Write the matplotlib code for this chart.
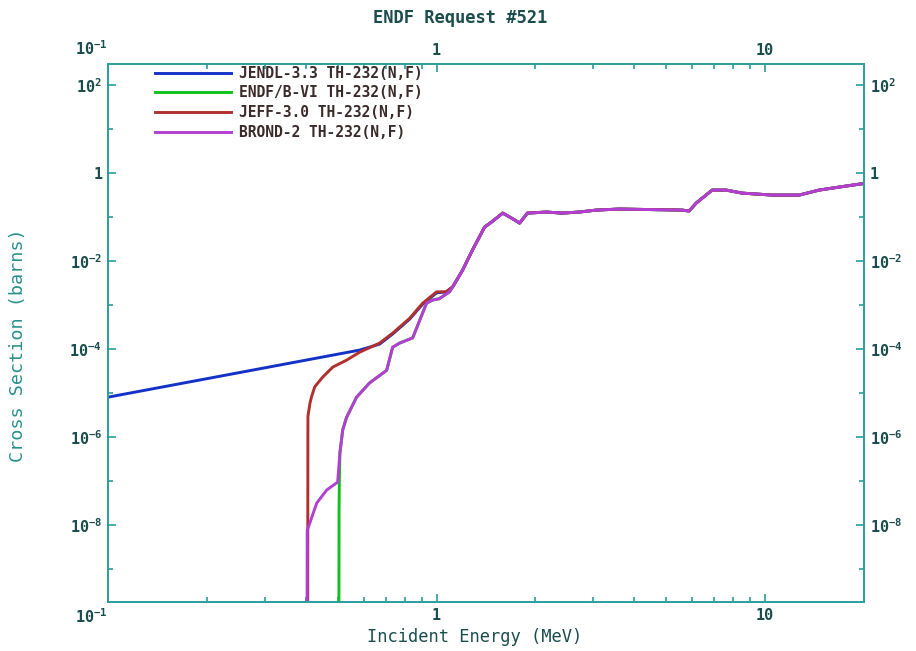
import numpy as np
import matplotlib
matplotlib.use("Agg")
import matplotlib.pyplot as plt
from matplotlib.ticker import FixedLocator, FixedFormatter, NullFormatter

plt.rcParams['font.family'] = ['DejaVu Sans Mono']
plt.rcParams['font.weight'] = 'bold'
plt.rcParams['mathtext.fontset'] = 'custom'
plt.rcParams['mathtext.rm'] = 'DejaVu Sans Mono:bold'
plt.rcParams['mathtext.it'] = 'DejaVu Sans Mono:bold'
plt.rcParams['mathtext.bf'] = 'DejaVu Sans Mono:bold'

# common part of all evaluations above ~1.2 MeV
e_tail = [1.20, 1.286, 1.40, 1.47, 1.59, 1.69, 1.79, 1.89, 2.16, 2.41, 2.72, 3.06,
          3.60, 5.59, 5.87, 6.17, 6.90, 7.61, 8.51, 10.5, 12.7, 14.6, 16.8, 20.0]
xs_tail = [6.2e-3, 0.0178, 0.059, 0.077, 0.123, 0.095, 0.073, 0.123, 0.130, 0.123, 0.130, 0.144,
           0.152, 0.144, 0.137, 0.208, 0.41, 0.41, 0.35, 0.316, 0.316, 0.41, 0.48, 0.58]

# JENDL-3.3
e_jendl = [0.1, 0.583, 0.671, 0.735, 0.828, 0.907, 1.0, 1.07, 1.12]
xs_jendl = [8.1e-6, 9.5e-5, 1.3e-4, 2.2e-4, 4.8e-4, 1.05e-3, 1.9e-3, 2.0e-3, 2.6e-3]

# BROND-2
e_brond = [0.403, 0.404, 0.411, 0.432, 0.463, 0.500, 0.508, 0.518, 0.532, 0.571, 0.625,
           0.705, 0.735, 0.772, 0.846, 0.932, 0.972, 1.02, 1.095, 1.12]
xs_brond = [1e-12, 7.7e-9, 1.1e-8, 3.2e-8, 6.3e-8, 9.5e-8, 4.4e-7, 1.45e-6, 2.8e-6, 8.1e-6, 1.7e-5,
            3.3e-5, 1.1e-4, 1.37e-4, 1.8e-4, 1.1e-3, 1.3e-3, 1.4e-3, 2.0e-3, 2.6e-3]

# ENDF/B-VI
e_endf = [0.504, 0.505, 0.506, 0.508] + e_brond[7:]
xs_endf = [1e-12, 2.2e-8, 9.5e-8, 4.4e-7] + xs_brond[7:]

# JEFF-3.0
e_jeff = [0.405, 0.406, 0.412, 0.417, 0.426, 0.450, 0.483, 0.532, 0.583, 0.671, 0.735, 0.828,
          0.907, 1.0, 1.07, 1.12]
xs_jeff = [1e-12, 3e-6, 6e-6, 8.6e-6, 1.4e-5, 2.3e-5, 3.9e-5, 5.6e-5, 8.5e-5, 1.37e-4, 2.3e-4, 5.0e-4,
           1.1e-3, 2.0e-3, 2.0e-3, 2.6e-3]

series = [
    ("JENDL-3.3 TH-232(N,F)", e_jendl + e_tail, xs_jendl + xs_tail, '#1432c8'),
    ("ENDF/B-VI TH-232(N,F)", e_endf + e_tail, xs_endf + xs_tail, '#12c01a'),
    ("JEFF-3.0 TH-232(N,F)", e_jeff + e_tail, xs_jeff + xs_tail, '#b0302e'),
    ("BROND-2 TH-232(N,F)", e_brond + e_tail, xs_brond + xs_tail, '#b43ed4'),
]

x_major = [0.1, 1, 10]
x_major_labels = [r'$10^{-1}$', '1', '10']
x_minor = [0.2, 0.3, 0.4, 0.5, 0.6, 0.7, 0.8, 0.9, 2, 3, 4, 5, 6, 7, 8, 9]
y_major = [1e-8, 1e-6, 1e-4, 1e-2, 1, 1e2]
y_major_labels = [r'$10^{-8}$', r'$10^{-6}$', r'$10^{-4}$', r'$10^{-2}$', '1', r'$10^{2}$']
y_minor = [1e-9, 1e-7, 1e-5, 1e-3, 1e-1, 1e1]

axis_col = '#2a9d9d'
text_col = '#1b4d4d'

fig = plt.figure(figsize=(9.16, 6.51), dpi=100)
ax = fig.add_axes([108 / 916, 1 - 602 / 651, 756 / 916, 538 / 651])

for lab, e, xs, col in series:
    ax.plot(e, xs, color=col, lw=2.1, label=lab)

ax.set_xscale('log')
ax.set_yscale('log')
ax.set_xlim(0.1, 20)
ax.set_ylim(1.8e-10, 300)

ax.xaxis.set_major_locator(FixedLocator(x_major))
ax.xaxis.set_major_formatter(FixedFormatter(x_major_labels))
ax.xaxis.set_minor_locator(FixedLocator(x_minor))
ax.xaxis.set_minor_formatter(NullFormatter())
ax.yaxis.set_major_locator(FixedLocator(y_major))
ax.yaxis.set_major_formatter(FixedFormatter(y_major_labels))
ax.yaxis.set_minor_locator(FixedLocator(y_minor))
ax.yaxis.set_minor_formatter(NullFormatter())

ax.tick_params(which='both', direction='in', top=True, right=True,
               labeltop=True, labelright=True, color=axis_col, width=1.2,
               labelsize=11, labelcolor=text_col)
ax.tick_params(which='major', length=6, pad=4)
ax.tick_params(which='minor', length=3.5)
for sp in ax.spines.values():
    sp.set_color(axis_col)
    sp.set_linewidth(1.4)

# the 10^-1 label sits left of the corner, as in the original
fig.canvas.draw()
for tk in ax.xaxis.get_major_ticks():
    if tk.label1.get_text() == r'$10^{-1}$':
        tk.label1.set_horizontalalignment('right')
        tk.label2.set_horizontalalignment('right')

ax.set_xlabel('Incident Energy (MeV)', fontsize=12.3, color=text_col)
ax.xaxis.set_label_coords((475 - 108) / 756, (602 - 628) / 538)
ax.set_ylabel('Cross Section (barns)', fontsize=13.3, color='#2a8f8f')
ax.yaxis.set_label_coords((27 - 108) / 756, (602 - 345) / 538)
fig.text(460 / 916, 1 - 18 / 651, 'ENDF Request #521', ha='center', va='center',
         fontsize=12.3, color=text_col)

ax.legend(loc='upper left', bbox_to_anchor=(0.062, 0.997), frameon=False,
          borderaxespad=0, borderpad=0, handlelength=5.2, handletextpad=0.55,
          labelspacing=0.33, prop={'family': 'DejaVu Sans Mono', 'weight': 'bold', 'size': 10.5},
          labelcolor='#3a2a2a')

fig.savefig('out.png', dpi=100)
